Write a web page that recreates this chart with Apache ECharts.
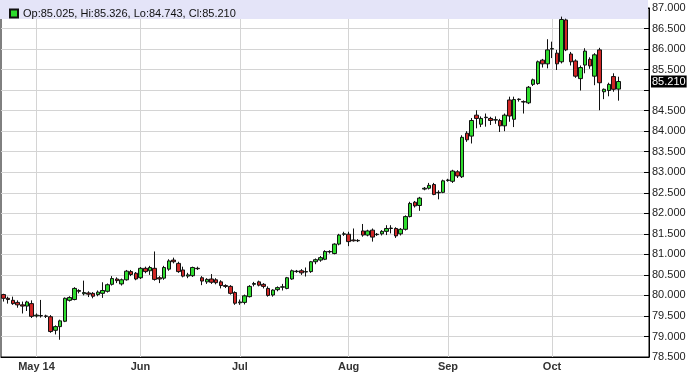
<!DOCTYPE html>
<html><head><meta charset="utf-8">
<script src="https://cdn.jsdelivr.net/npm/echarts@6/dist/echarts.min.js"></script>
<style>html,body{margin:0;padding:0;background:#fff}#c{width:689px;height:373px}</style>
</head><body><div id="c"></div>
<script>
const categories = [
'2014-04-22','2014-04-23','2014-04-24','2014-04-25','2014-04-28','2014-04-29','2014-04-30',
'2014-05-01','2014-05-02','2014-05-05','2014-05-06','2014-05-07','2014-05-08','2014-05-09','2014-05-12','2014-05-13','2014-05-14','2014-05-15','2014-05-16','2014-05-19','2014-05-20','2014-05-21','2014-05-22','2014-05-23','2014-05-26','2014-05-27','2014-05-28','2014-05-29','2014-05-30',
'2014-06-02','2014-06-03','2014-06-04','2014-06-05','2014-06-06','2014-06-09','2014-06-10','2014-06-11','2014-06-12','2014-06-13','2014-06-16','2014-06-17','2014-06-18','2014-06-19','2014-06-20','2014-06-23','2014-06-24','2014-06-25','2014-06-26','2014-06-27','2014-06-30',
'2014-07-01','2014-07-02','2014-07-03','2014-07-04','2014-07-07','2014-07-08','2014-07-09','2014-07-10','2014-07-11','2014-07-14','2014-07-15','2014-07-16','2014-07-17','2014-07-18','2014-07-21','2014-07-22','2014-07-23','2014-07-24','2014-07-25','2014-07-28','2014-07-29','2014-07-30','2014-07-31',
'2014-08-01','2014-08-04','2014-08-05','2014-08-06','2014-08-07','2014-08-08','2014-08-11','2014-08-12','2014-08-13','2014-08-14','2014-08-15','2014-08-18','2014-08-19','2014-08-20','2014-08-21','2014-08-22','2014-08-25','2014-08-26','2014-08-27','2014-08-28','2014-08-29',
'2014-09-01','2014-09-02','2014-09-03','2014-09-04','2014-09-05','2014-09-08','2014-09-09','2014-09-10','2014-09-11','2014-09-12','2014-09-15','2014-09-16','2014-09-17','2014-09-18','2014-09-19','2014-09-22','2014-09-23','2014-09-24','2014-09-25','2014-09-26','2014-09-29','2014-09-30',
'2014-10-01','2014-10-02','2014-10-03','2014-10-06','2014-10-07','2014-10-08','2014-10-09','2014-10-10','2014-10-13','2014-10-14','2014-10-15','2014-10-16','2014-10-17','2014-10-20','2014-10-21',
'2014-10-22','2014-10-23','2014-10-24','2014-10-27','2014-10-28','2014-10-29'
];
const opens = [
80.02,79.93,79.88,79.83,79.77,79.74,79.80,79.50,79.51,79.50,
79.48,79.15,79.24,79.37,79.88,79.90,80.12,80.04,80.06,80.05,
80.02,80.05,80.10,80.27,80.40,80.28,80.38,80.58,80.54,80.43,
80.66,80.60,80.66,80.43,80.42,80.64,80.86,80.78,80.62,80.47,
80.48,80.66,80.43,80.33,80.40,80.38,80.33,80.24,80.22,80.07,
79.82,79.83,79.97,80.27,80.33,80.27,80.17,80.01,80.14,80.20,
80.17,80.40,80.59,80.60,80.57,80.58,80.82,80.86,80.88,81.07,
81.02,81.25,81.49,81.49,81.35,81.33,81.57,81.47,81.59,81.48,
81.50,81.56,81.63,81.63,81.50,81.61,81.92,82.27,82.19,82.59,
82.61,82.70,82.50,82.51,82.80,82.78,83.01,82.89,83.95,83.88,
84.39,84.17,84.34,84.31,84.27,84.26,84.13,84.76,84.29,84.77,
84.72,84.69,85.14,85.16,85.73,85.64,86.00,85.90,85.69,86.71,
85.88,85.71,85.28,85.61,85.75,85.34,85.98,84.96,84.99,85.33,
85.025
];
const closes = [
79.93,79.90,79.80,79.77,79.74,79.84,79.49,79.52,79.50,79.49,
79.12,79.24,79.38,79.93,79.95,80.17,80.10,80.07,80.03,79.98,
80.08,80.12,80.26,80.41,80.36,80.38,80.59,80.51,80.40,80.66,
80.58,80.68,80.39,80.40,80.68,80.84,80.82,80.58,80.47,80.50,
80.68,80.65,80.35,80.39,80.32,80.31,80.24,80.22,80.05,79.81,
79.84,79.99,80.22,80.29,80.25,80.22,80.00,80.13,80.19,80.21,
80.43,80.60,80.58,80.55,80.58,80.82,80.87,80.92,81.07,81.06,
81.25,81.47,81.50,81.31,81.33,81.34,81.47,81.57,81.42,81.49,
81.56,81.63,81.64,81.45,81.61,81.92,82.24,82.18,82.37,82.61,
82.68,82.46,82.51,82.79,82.81,83.03,82.91,83.85,83.79,84.26,
84.31,84.31,84.33,84.26,84.28,84.13,84.39,84.37,84.77,84.78,
84.71,85.07,85.25,85.69,85.64,85.98,86.01,85.64,86.72,85.98,
85.69,85.34,85.55,85.95,85.59,85.86,85.18,85.02,85.14,85.02,
85.21
];
const highs = [
80.04,79.97,79.97,79.88,79.85,79.87,79.88,79.56,79.89,79.53,
79.52,79.27,79.41,79.95,79.98,80.20,80.15,80.36,80.10,80.08,
80.12,80.32,80.29,80.47,80.44,80.41,80.62,80.62,80.57,80.69,
80.70,80.72,81.07,80.47,80.72,80.88,80.92,80.82,80.70,80.55,
80.70,80.70,80.47,80.42,80.52,80.42,80.37,80.27,80.25,80.10,
79.90,80.02,80.25,80.33,80.36,80.30,80.22,80.15,80.22,80.28,
80.45,80.63,80.62,80.64,80.68,80.84,80.90,80.96,81.10,81.10,
81.27,81.50,81.55,81.55,81.63,81.37,81.74,81.60,81.63,81.52,
81.59,81.71,81.71,81.66,81.64,81.95,82.28,82.30,82.40,82.64,
82.74,82.74,82.56,82.82,82.84,83.06,83.05,83.90,84.00,84.32,
84.51,84.36,84.43,84.35,84.36,84.30,84.43,84.84,84.84,84.80,
84.75,85.10,85.28,85.72,85.76,86.24,86.18,85.98,86.79,86.74,
85.93,85.75,85.60,86.02,85.80,85.90,86.03,85.04,85.18,85.41,
85.326
];
const lows = [
79.85,79.80,79.77,79.70,79.56,79.62,79.45,79.46,79.46,79.45,
79.09,79.05,78.92,79.35,79.85,79.88,80.05,80.00,79.96,79.93,
79.98,79.94,80.07,80.24,80.30,80.24,80.36,80.47,80.37,80.40,
80.54,80.50,80.36,80.30,80.38,80.60,80.78,80.55,80.44,80.42,
80.45,80.62,80.25,80.28,80.28,80.27,80.17,80.18,80.02,79.77,
79.77,79.78,79.95,80.22,80.22,80.17,79.97,79.97,80.10,80.12,
80.15,80.38,80.55,80.50,80.46,80.55,80.76,80.82,80.86,81.02,
81.00,81.22,81.45,81.20,81.31,81.30,81.43,81.44,81.31,81.45,
81.46,81.47,81.51,81.40,81.46,81.58,81.90,82.14,82.06,82.56,
82.58,82.44,82.34,82.49,82.77,82.74,82.86,82.86,83.74,83.70,
84.07,84.10,84.11,84.15,84.18,83.98,84.00,84.23,84.10,84.72,
84.43,84.66,85.10,85.13,85.55,85.53,85.78,85.49,85.65,85.95,
85.60,85.30,84.99,85.41,85.52,85.12,84.51,84.78,84.85,84.96,
84.743
];
const monthStarts = ['2014-05-01','2014-06-02','2014-07-01','2014-08-01','2014-09-01','2014-10-01'];
const monthLabels = ['May 14','Jun','Jul','Aug','Sep','Oct'];
const yMin = 78.5, yMax = 87, yStep = 0.5;

const last = opens.length - 1;
const lastClose = closes[last];
const headerText = 'Op:' + opens[last].toFixed(3) + ', Hi:' + highs[last].toFixed(3) +
  ', Lo:' + lows[last].toFixed(3) + ', Cl:' + closes[last].toFixed(3);
const candleData = opens.map((o, i) => [o, closes[i], lows[i], highs[i]]);
const FONT = 'Liberation Sans, Arial, sans-serif';

const chart = echarts.init(document.getElementById('c'), null, {renderer: 'canvas'});
chart.setOption({
  animation: false,
  backgroundColor: '#fff',
  textStyle: {fontFamily: FONT},
  grid: {left: 1, right: 40, top: 8, bottom: 16, show: true, borderColor: '#000', borderWidth: 1,
         backgroundColor: '#fff', outerBoundsMode: 'none', containLabel: false},
  graphic: [{
    type: 'rect', z: 1, silent: true,
    shape: {x: 0, y: 0, width: 648, height: 19},
    style: {fill: '#e4e4f8'}
  }],
  legend: {
    show: true, left: 4, top: 3, selectedMode: false,
    icon: 'rect', itemWidth: 8, itemHeight: 8, itemGap: 5,
    textStyle: {fontSize: 11, color: '#111', fontFamily: FONT},
    data: [headerText]
  },
  xAxis: {
    type: 'category', data: categories, boundaryGap: true,
    axisLine: {show: true, lineStyle: {color: '#000', width: 1}},
    axisTick: {show: false},
    axisLabel: {
      show: true, margin: 4, fontSize: 11, fontWeight: 'bold', color: '#333', fontFamily: FONT,
      interval: (idx, val) => monthStarts.indexOf(val) >= 0,
      formatter: (val) => { const k = monthStarts.indexOf(val); return k >= 0 ? monthLabels[k] : ''; }
    },
    splitLine: {
      show: true, alignWithLabel: true,
      interval: (idx, val) => monthStarts.indexOf(val) >= 0,
      lineStyle: {color: '#d4d4d4', width: 1}
    }
  },
  yAxis: {
    type: 'value', position: 'right', min: yMin, max: yMax, interval: yStep, scale: true,
    axisLine: {show: true, lineStyle: {color: '#000', width: 1}},
    axisTick: {show: true, inside: true, length: 5, lineStyle: {color: '#000'}},
    axisLabel: {
      margin: 3, fontSize: 11, color: '#222', fontFamily: FONT,
      formatter: (v) => Math.abs(v - lastClose) < 0.25 ? '' : v.toFixed(3)
    },
    splitLine: {show: true, lineStyle: {color: '#d4d4d4', width: 1}}
  },
  series: [{
    name: headerText,
    type: 'candlestick',
    data: candleData,
    barWidth: 4,
    z: 2,
    itemStyle: {
      color: '#2edc2e', color0: '#d02626',
      borderColor: '#111', borderColor0: '#111', borderWidth: 1
    },
    markLine: {
      silent: true, symbol: ['none', 'none'], z: 5,
      lineStyle: {color: 'rgba(0,0,0,0)', width: 1, type: 'solid'},
      emphasis: {disabled: true},
      label: {
        show: true, position: 'end', distance: 2,
        formatter: () => lastClose.toFixed(3),
        color: '#fff', backgroundColor: '#000', padding: [1, 1, 0, 1],
        fontSize: 11, fontFamily: FONT, opacity: 1
      },
      data: [{yAxis: lastClose}]
    }
  }]
});
</script></body></html>
